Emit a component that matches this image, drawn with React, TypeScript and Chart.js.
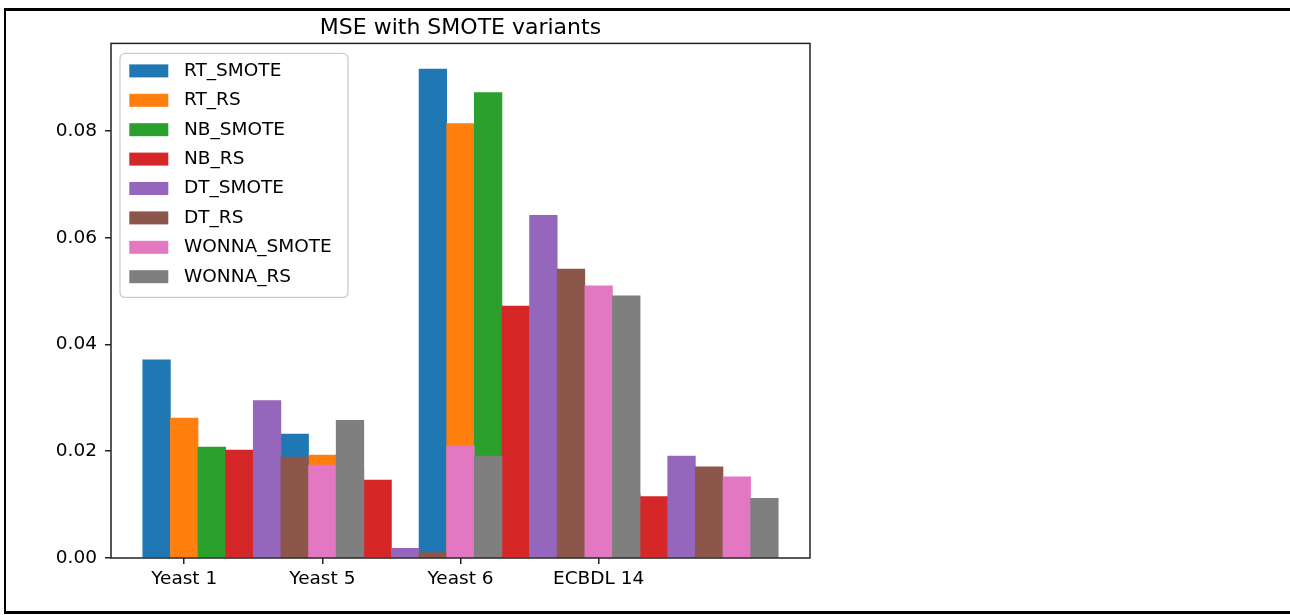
import React, { useEffect, useRef } from 'react';
import { Chart, registerables } from 'chart.js';

Chart.register(...registerables);

// ---------- data ----------
const chartTitle = 'MSE with SMOTE variants';
const categories = ['Yeast 1', 'Yeast 5', 'Yeast 6', 'ECBDL 14'];
const seriesNames = ['RT_SMOTE', 'RT_RS', 'NB_SMOTE', 'NB_RS', 'DT_SMOTE', 'DT_RS', 'WONNA_SMOTE', 'WONNA_RS'];
const seriesColors = ['#1f77b4', '#ff7f0e', '#2ca02c', '#d62728', '#9467bd', '#8c564b', '#e377c2', '#7f7f7f'];

const rtSmote = [0.0371, 0.0232, 0.0916, 0.0135];
const rtRs = [0.0262, 0.0193, 0.0814, 0.0125];
const nbSmote = [0.0208, 0.0165, 0.0872, 0.012];
const nbRs = [0.0202, 0.0146, 0.0472, 0.0115];
const dtSmote = [0.0295, 0.0018, 0.0642, 0.0191];
const dtRs = [0.0189, 0.001, 0.0541, 0.0171];
const wonnaSmote = [0.0174, 0.021, 0.051, 0.0152];
const wonnaRs = [0.0258, 0.0191, 0.0491, 0.0112];
const seriesValues = [rtSmote, rtRs, nbSmote, nbRs, dtSmote, dtRs, wonnaSmote, wonnaRs];

const yTicks = [0, 0.02, 0.04, 0.06, 0.08];
const yMax = 0.0964;

// Bars are 0.2 category-units wide; x is expressed in bar-width units (5 per category).
// Series j sits at category + (j - 1) bar widths, so later series overlap the next category.
const SLOTS = 5;
const xMin = -2.65;
const xMax = 22.65;

const FONT = 'DejaVu Sans';

const datasets = seriesNames.map((name, j) => ({
  label: name,
  data: seriesValues[j].map((v, i) => ({ x: i * SLOTS + (j - 1), y: v })),
  backgroundColor: seriesColors[j],
  borderWidth: 0,
  order: seriesNames.length - j,
  grouped: false,
  categoryPercentage: 1,
  barPercentage: 1,
}));

const spinesPlugin = {
  id: 'spines',
  afterDatasetsDraw(chart: any) {
    const { ctx, chartArea: ca } = chart;
    ctx.save();
    ctx.strokeStyle = '#222';
    ctx.lineWidth = 1.5;
    ctx.strokeRect(ca.left, ca.top, ca.right - ca.left, ca.bottom - ca.top);
    ctx.restore();
  },
};

const legendPlugin = {
  id: 'mplLegend',
  afterDraw(chart: any) {
    const { ctx, chartArea: ca } = chart;
    ctx.save();
    const fx = ca.left + 9;
    const fy = ca.top + 10;
    ctx.beginPath();
    if ((ctx as any).roundRect) (ctx as any).roundRect(fx, fy, 228, 244, 5);
    else ctx.rect(fx, fy, 228, 244);
    ctx.fillStyle = 'rgba(255,255,255,0.8)';
    ctx.fill();
    ctx.strokeStyle = '#cccccc';
    ctx.lineWidth = 1.3;
    ctx.stroke();
    chart.data.datasets.forEach((ds: any, i: number) => {
      const cy = ca.top + 27.5 + i * 29.4;
      ctx.fillStyle = ds.backgroundColor;
      ctx.fillRect(ca.left + 18.3, cy - 6.5, 39, 13);
      ctx.fillStyle = '#000';
      ctx.font = `18.5px "${FONT}"`;
      ctx.textBaseline = 'middle';
      ctx.textAlign = 'left';
      ctx.fillText(ds.label, ca.left + 73, cy);
    });
    ctx.restore();
  },
};

export default function App() {
  const ref = useRef<HTMLCanvasElement>(null);

  useEffect(() => {
    if (!ref.current) return;
    Chart.defaults.font.family = FONT;
    const chart = new Chart(ref.current, {
      type: 'bar',
      data: { datasets: datasets as any },
      options: {
        animation: false,
        responsive: false,
        layout: { padding: { left: 0, right: 480, top: 0, bottom: 7 } },
        plugins: {
          legend: { display: false },
          tooltip: { enabled: false },
          title: {
            display: true,
            text: chartTitle,
            fullSize: false,
            color: '#000',
            font: { family: FONT, size: 22, weight: 'normal' },
            padding: { top: 15, bottom: 2 },
          },
        },
        scales: {
          x: {
            type: 'linear',
            min: xMin,
            max: xMax,
            offset: false,
            afterFit: (scale: any) => {
              scale.height = 50;
            },
            afterBuildTicks: (scale: any) => {
              scale.ticks = categories.map((_, i) => ({ value: i * SLOTS }));
            },
            grid: {
              offset: false,
              display: true,
              drawOnChartArea: false,
              drawTicks: true,
              tickLength: 6,
              color: '#222',
              lineWidth: 1.5,
            },
            border: { display: false },
            ticks: {
              color: '#000',
              font: { family: FONT, size: 18.5 },
              padding: 4,
              maxRotation: 0,
              autoSkip: false,
              callback: (_v: any, index: number) => categories[index],
            },
          },
          y: {
            type: 'linear',
            min: 0,
            max: yMax,
            afterFit: (scale: any) => {
              scale.width = 111;
            },
            afterBuildTicks: (scale: any) => {
              scale.ticks = yTicks.map((v) => ({ value: v }));
            },
            grid: {
              display: true,
              drawOnChartArea: false,
              drawTicks: true,
              tickLength: 6,
              color: '#222',
              lineWidth: 1.5,
            },
            border: { display: false },
            ticks: {
              color: '#000',
              font: { family: FONT, size: 18.5 },
              padding: 8,
              callback: (v: any) => Number(v).toFixed(2),
            },
          },
        },
      },
      plugins: [spinesPlugin, legendPlugin],
    } as any);
    return () => chart.destroy();
  }, []);

  return (
    <div
      style={{
        position: 'absolute',
        left: 0,
        top: 0,
        width: 1290,
        height: 615,
        overflow: 'hidden',
        background: '#fff',
      }}
    >
      <div
        style={{
          position: 'absolute',
          left: 4,
          top: 8,
          width: 1286,
          height: 606,
          borderTop: '3px solid #000',
          borderLeft: '2px solid #000',
          borderBottom: '3px solid #000',
          boxSizing: 'border-box',
        }}
      />
      <canvas ref={ref} width={1290} height={615} style={{ position: 'absolute', left: 0, top: 0 }} />
    </div>
  );
}
